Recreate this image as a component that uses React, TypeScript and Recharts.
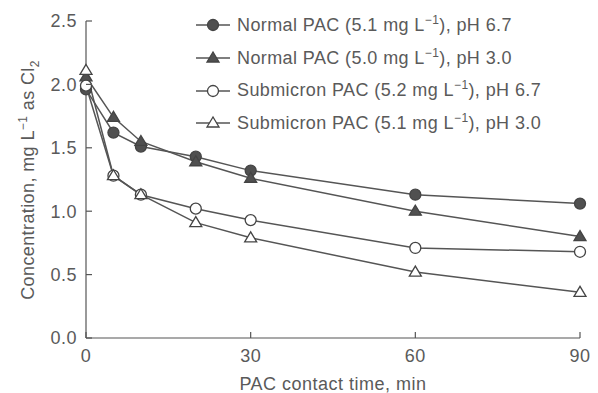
import { LineChart, Line, XAxis, YAxis, Legend } from "recharts";

const contactTime = [0, 5, 10, 20, 30, 60, 90];
const normalPh67 = [1.96, 1.62, 1.51, 1.43, 1.32, 1.13, 1.06];
const normalPh30 = [2.06, 1.74, 1.55, 1.39, 1.26, 1.0, 0.8];
const submicronPh67 = [1.99, 1.28, 1.13, 1.02, 0.93, 0.71, 0.68];
const submicronPh30 = [2.11, 1.28, 1.13, 0.91, 0.79, 0.52, 0.36];

const xTicks = [0, 30, 60, 90];
const yTicks = [0, 0.5, 1.0, 1.5, 2.0, 2.5];

const series = [
  { key: "normal67", kind: "Normal", dose: "5.1", ph: "6.7", shape: "circle", filled: true, values: normalPh67 },
  { key: "normal30", kind: "Normal", dose: "5.0", ph: "3.0", shape: "triangle", filled: true, values: normalPh30 },
  { key: "sub67", kind: "Submicron", dose: "5.2", ph: "6.7", shape: "circle", filled: false, values: submicronPh67 },
  { key: "sub30", kind: "Submicron", dose: "5.1", ph: "3.0", shape: "triangle", filled: false, values: submicronPh30 },
];

const data = contactTime.map((t, i) => {
  const row: any = { t };
  series.forEach((s) => (row[s.key] = s.values[i]));
  return row;
});

const ink = "#555";
const textColor = "#5a5a5a";
const font = "'Liberation Sans', Arial, sans-serif";

function Marker({ cx, cy, shape, filled }: any) {
  const fill = filled ? "#505050" : "#fff";
  if (shape === "circle") {
    return <circle cx={cx} cy={cy} r={5.5} fill={fill} stroke="#444" strokeWidth={1.3} />;
  }
  const h = 10;
  const w = 12;
  return (
    <polygon
      points={`${cx},${cy - h * 0.6} ${cx - w / 2},${cy + h * 0.4} ${cx + w / 2},${cy + h * 0.4}`}
      fill={fill}
      stroke="#444"
      strokeWidth={1.3}
    />
  );
}

function XTick({ x, y, payload }: any) {
  return (
    <g>
      <line x1={x} x2={x} y1={y - 8} y2={y - 14} stroke={ink} strokeWidth={1.2} />
      <text x={x} y={y + 3} dy="0.71em" textAnchor="middle" fill={textColor} fontSize={18} fontFamily={font} letterSpacing={0.5}>
        {payload.value}
      </text>
    </g>
  );
}

function YTick({ x, y, payload }: any) {
  return (
    <g>
      <line x1={x + 8} x2={x + 14} y1={y} y2={y} stroke={ink} strokeWidth={1.2} />
      <text x={x - 1} y={y} dy="0.35em" textAnchor="end" fill={textColor} fontSize={18} fontFamily={font} letterSpacing={0.5}>
        {Number(payload.value).toFixed(1)}
      </text>
    </g>
  );
}

function XTitle({ viewBox }: any) {
  const { x, y, width } = viewBox;
  return (
    <text x={x + width / 2} y={y + 52} textAnchor="middle" fill={textColor} fontSize={18} fontFamily={font} letterSpacing={0.5}>
      PAC contact time, min
    </text>
  );
}

function YTitle() {
  const cx = 34;
  const cy = 180;
  return (
    <text
      x={cx}
      y={cy}
      transform={`rotate(-90, ${cx}, ${cy})`}
      textAnchor="middle"
      fill={textColor}
      fontSize={18}
      fontFamily={font}
      letterSpacing={0.4}
    >
      Concentration, mg L
      <tspan dy={-7} fontSize={12}>
        −1
      </tspan>
      <tspan dy={7}> as Cl</tspan>
      <tspan dy={5} fontSize={12}>
        2
      </tspan>
    </text>
  );
}

function LegendBox() {
  return (
    <div style={{ fontFamily: font, fontSize: 18, color: textColor, letterSpacing: 0.4 }}>
      {series.map((s) => (
        <div key={s.key} style={{ display: "flex", alignItems: "center", height: 32.7 }}>
          <svg width={40} height={20} style={{ marginRight: 2 }}>
            <line x1={1} x2={35} y1={10} y2={10} stroke={ink} strokeWidth={1.5} />
            <Marker cx={18} cy={10} shape={s.shape} filled={s.filled} />
          </svg>
          <span style={{ whiteSpace: "nowrap" }}>
            {s.kind} PAC ({s.dose} mg L<sup style={{ fontSize: 12, lineHeight: 0 }}>−1</sup>), pH {s.ph}
          </span>
        </div>
      ))}
    </div>
  );
}

export default function App() {
  return (
    <div style={{ width: 598, height: 393, background: "#fff" }}>
      <style>{"body{margin:0}"}</style>
      <LineChart width={598} height={393} data={data} margin={{ top: 21, right: 18, bottom: 5, left: 0 }}>
        <XAxis
          dataKey="t"
          type="number"
          domain={[0, 90]}
          ticks={xTicks}
          height={50}
          stroke={ink}
          strokeWidth={1.2}
          tickLine={false}
          tick={<XTick />}
          label={<XTitle />}
        />
        <YAxis
          type="number"
          domain={[0, 2.5]}
          ticks={yTicks}
          width={86}
          stroke={ink}
          strokeWidth={1.2}
          tickLine={false}
          tick={<YTick />}
          label={<YTitle />}
        />
        <Legend
          layout="vertical"
          align="center"
          verticalAlign="middle"
          wrapperStyle={{ left: 195, top: 9, width: 400 }}
          content={<LegendBox />}
        />
        {series.map((s) => (
          <Line
            key={s.key}
            dataKey={s.key}
            type="linear"
            stroke={ink}
            strokeWidth={1.5}
            isAnimationActive={false}
            dot={(p: any) => <Marker key={`${s.key}-${p.index}`} cx={p.cx} cy={p.cy} shape={s.shape} filled={s.filled} />}
            activeDot={false}
          />
        ))}
      </LineChart>
    </div>
  );
}
